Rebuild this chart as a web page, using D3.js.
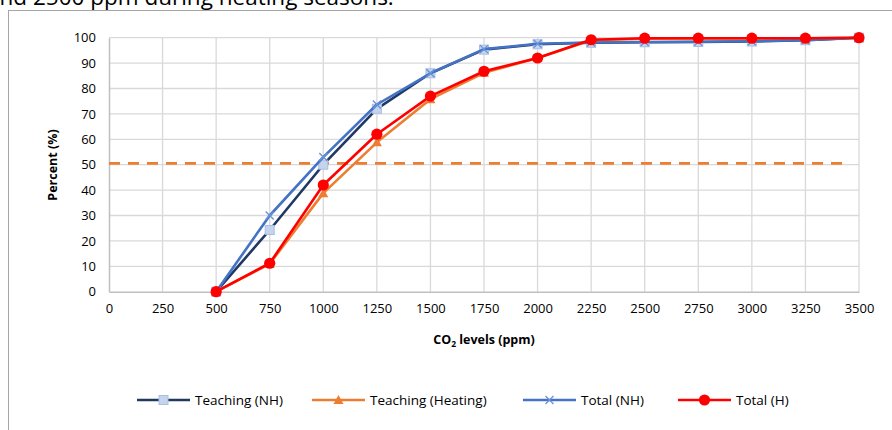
<!DOCTYPE html>
<html><head><meta charset="utf-8">
<script src="https://cdn.jsdelivr.net/npm/d3@7"></script>
<style>body{margin:0;background:#fff;}svg{display:block;font-family:"Open Sans",sans-serif;}</style>
</head><body>
<svg id="c" width="892" height="430"></svg>
<script>
const co2Levels = [500, 750, 1000, 1250, 1500, 1750, 2000, 2250, 2500, 2750, 3000, 3250, 3500];
const teachingNH = [0, 24.3, 50, 72, 86, 95.3, 97.4, 98, 98.2, 98.3, 98.5, 99, 100];
const teachingHeating = [0, 11, 38.8, 58.8, 75.8, 86.2, 92, 99, 99.6, 99.7, 99.7, 99.8, 100];
const totalNH = [0, 30, 53, 73.7, 86, 95.5, 97.6, 98.1, 98.3, 98.4, 98.6, 99, 100];
const totalH = [0, 11.2, 42, 62, 77, 86.8, 92, 99.2, 99.8, 99.8, 99.8, 99.8, 100];
const threshold = 50.5;
const xTicks = [0, 250, 500, 750, 1000, 1250, 1500, 1750, 2000, 2250, 2500, 2750, 3000, 3250, 3500];
const yTicks = [0, 10, 20, 30, 40, 50, 60, 70, 80, 90, 100];
const seriesNames = ["Teaching (NH)", "Teaching (Heating)", "Total (NH)", "Total (H)"];

const svg = d3.select("#c");
const x = d3.scaleLinear().domain([0, 3500]).range([109, 859]);
const y = d3.scaleLinear().domain([0, 100]).range([291.7, 37.7]);

// surrounding text fragment (clipped document line)
svg.append("text").attr("x", -13).attr("y", 5).attr("font-size", 22.5).attr("fill", "#000")
  .text("and 2500 ppm during heating seasons.");
// chart frame
svg.append("rect").attr("x", 8.5).attr("y", 10.5).attr("width", 1000).attr("height", 1000)
  .attr("fill", "none").attr("stroke", "#a6a6a6").attr("stroke-width", 1);

// gridlines
const g = svg.append("g");
g.selectAll(".hg").data(yTicks.filter(d => d > 0)).join("line")
  .attr("x1", x(0)).attr("x2", x(3500)).attr("y1", d => y(d)).attr("y2", d => y(d))
  .attr("stroke", "#d9d9d9").attr("stroke-width", 1.3);
g.selectAll(".vg").data(xTicks.filter(d => d > 0)).join("line")
  .attr("x1", d => x(d)).attr("x2", d => x(d)).attr("y1", y(0)).attr("y2", y(100))
  .attr("stroke", "#d9d9d9").attr("stroke-width", 1.3);

// axes
const xAxis = svg.append("g").attr("transform", `translate(0,${y(0)})`)
  .call(d3.axisBottom(x).tickValues(xTicks).tickSize(0).tickPadding(12).tickFormat(d3.format("d")));
const yAxis = svg.append("g").attr("transform", `translate(${x(0)},0)`)
  .call(d3.axisLeft(y).tickValues(yTicks).tickSize(0).tickPadding(13).tickFormat(d3.format("d")));
[xAxis, yAxis].forEach(a => {
  a.select(".domain").attr("stroke", "#bfbfbf").attr("stroke-width", 1.5);
  a.selectAll("text").attr("font-size", 13).attr("fill", "#000").attr("font-family", "Open Sans");
});

// axis titles
const xt = svg.append("text").attr("x", 484).attr("y", 344).attr("text-anchor", "middle")
  .attr("font-size", 12.5).attr("font-weight", "bold");
xt.append("tspan").text("CO");
xt.append("tspan").attr("font-size", 8.5).attr("dy", 3).text("2");
xt.append("tspan").attr("dy", -3).text(" levels (ppm)");
svg.append("text").attr("transform", "translate(57,165) rotate(-90)").attr("text-anchor", "middle")
  .attr("font-size", 12.5).attr("font-weight", "bold").text("Percent (%)");

// threshold dashed line
svg.append("line").attr("x1", x(0)).attr("x2", 847).attr("y1", y(threshold)).attr("y2", y(threshold))
  .attr("stroke", "#ed7d31").attr("stroke-width", 2.8).attr("stroke-dasharray", "11,8");

const series = [
  {name: seriesNames[0], vals: teachingNH, color: "#1f3864", marker: "square"},
  {name: seriesNames[1], vals: teachingHeating, color: "#ed7d31", marker: "triangle"},
  {name: seriesNames[2], vals: totalNH, color: "#4472c4", marker: "x"},
  {name: seriesNames[3], vals: totalH, color: "#ff0000", marker: "circle"}
];

function drawMarker(sel, type, cx, cy) {
  if (type === "square") {
    sel.append("rect").attr("x", cx - 4.5).attr("y", cy - 4.5).attr("width", 9).attr("height", 9)
      .attr("fill", "#c5d4ec").attr("stroke", "#a8bfe4").attr("stroke-width", 1);
  } else if (type === "triangle") {
    sel.append("path").attr("d", `M${cx},${cy - 5}L${cx + 5},${cy + 4}L${cx - 5},${cy + 4}Z`)
      .attr("fill", "#ed7d31");
  } else if (type === "x") {
    sel.append("path").attr("d", `M${cx - 4},${cy - 4}L${cx + 4},${cy + 4}M${cx - 4},${cy + 4}L${cx + 4},${cy - 4}`)
      .attr("stroke", "#6a94d8").attr("stroke-width", 1.4).attr("fill", "none");
  } else {
    sel.append("circle").attr("cx", cx).attr("cy", cy).attr("r", 5.6).attr("fill", "#ff0000");
  }
}

const line = d3.line().x((d, i) => x(co2Levels[i])).y(d => y(d));
series.forEach(s => {
  svg.append("path").datum(s.vals).attr("d", line).attr("fill", "none")
    .attr("stroke", s.color).attr("stroke-width", 2.6).attr("stroke-linejoin", "round");
  const mg = svg.append("g");
  s.vals.forEach((v, i) => drawMarker(mg, s.marker, x(co2Levels[i]), y(v)));
});

// legend
const legendX = [137, 312, 523, 678];
const ly = 400;
series.forEach((s, i) => {
  const lg = svg.append("g");
  lg.append("line").attr("x1", legendX[i]).attr("x2", legendX[i] + 53).attr("y1", ly).attr("y2", ly)
    .attr("stroke", s.color).attr("stroke-width", 2.6);
  drawMarker(lg, s.marker, legendX[i] + 26.5, ly);
  lg.append("text").attr("x", legendX[i] + 58).attr("y", ly + 4.5).attr("font-size", 13.5)
    .attr("fill", "#000").text(s.name);
});
</script>
</body></html>
